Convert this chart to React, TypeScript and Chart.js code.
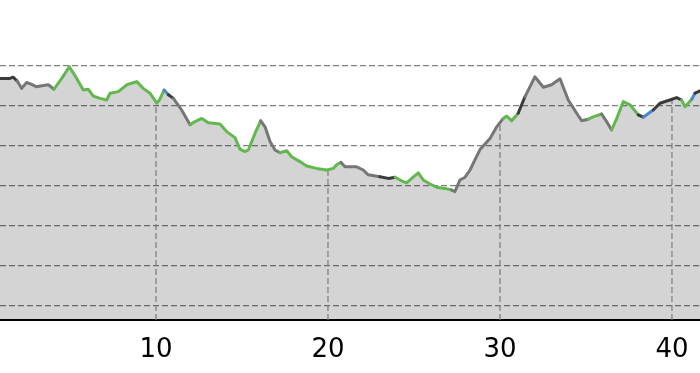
import { useEffect, useRef } from "react";
import { Chart, registerables } from "chart.js";

Chart.register(...registerables);

// distance along the route (km)
const distances = [
  0.8, 0.93, 1.51, 1.69, 1.92, 2.19, 2.48, 2.77, 3.06, 3.45, 3.74, 4.07, 4.52, 4.96, 5.39, 5.77, 6.06, 6.35, 6.74,
  7.13, 7.33, 7.81, 8.3, 8.88, 9.26, 9.65, 10.04, 10.23, 10.47, 10.72, 11.01, 11.49, 11.98, 12.27, 12.66, 13.04,
  13.72, 14.11, 14.59, 14.88, 15.17, 15.37, 15.76, 16.09, 16.34, 16.63, 16.92, 17.21, 17.6, 17.89, 18.37, 18.76,
  19.34, 19.92, 20.31, 20.5, 20.76, 20.99, 21.67, 22.05, 22.34, 23.02, 23.51, 23.9, 24.28, 24.57, 24.87, 25.25,
  25.54, 25.93, 26.32, 26.8, 27.19, 27.38, 27.67, 27.97, 28.26, 28.45, 28.84, 29.42, 29.81, 30.19, 30.39, 30.68,
  31.06, 31.45, 32.03, 32.52, 33.0, 33.49, 33.97, 34.46, 34.75, 35.13, 35.42, 35.91, 36.2, 36.49, 36.79, 37.17,
  37.56, 38.04, 38.33, 38.91, 39.3, 39.88, 40.27, 40.56, 40.76, 41.15, 41.34, 41.63, 41.92,
];

// elevation (arbitrary units, grid step 10)
const elevations = [
  57.0, 56.9, 56.9, 57.2, 56.3, 54.4, 55.9, 55.4, 54.8, 55.1, 55.3, 54.2, 56.9, 59.8, 56.9, 54.0, 54.2, 52.5, 51.9,
  51.5, 53.2, 53.6, 55.3, 56.1, 54.4, 53.2, 50.7, 51.7, 54.0, 52.8, 51.9, 49.0, 45.3, 46.1, 46.9, 45.8,
  45.5, 43.6, 42.1, 39.2, 38.6, 39.0, 43.2, 46.3, 44.8, 41.1, 39.0, 38.3, 38.8, 37.3, 36.1, 35.0,
  34.4, 34.0, 34.4, 35.3, 35.9, 34.8, 34.8, 34.0, 32.8, 32.3, 31.9, 32.2, 31.3, 30.8, 31.9, 33.3,
  31.5, 30.5, 29.7, 29.4, 29.0, 28.6, 31.5, 32.2, 34.0, 35.7, 39.1, 41.9, 44.8, 46.9, 47.5, 46.3,
  48.2, 52.3, 57.3, 54.7, 55.3, 56.8, 51.5, 48.2, 46.3, 46.7, 47.3, 48.0, 46.1, 44.0, 46.9, 51.1,
  50.3, 47.8, 47.2, 49.0, 50.7, 51.5, 52.1, 51.5, 49.8, 51.7, 53.2, 53.8, 54.5,
];

// colour class of the segment starting at each point: d dark, g grey, G green, b blue
const segmentKinds = [
  "d", "d", "d", "d", "g", "g", "g", "g", "g", "g", "g", "G", "G", "G", "G", "G", "G", "G", "G",
  "G", "G", "G", "G", "G", "G", "G", "G", "G", "b", "d", "g", "g", "G", "G", "G", "G",
  "G", "G", "G", "G", "G", "G", "G", "g", "g", "g", "g", "G", "G", "G", "G", "G",
  "G", "G", "G", "G", "g", "g", "g", "g", "g", "d", "d", "G", "G", "G", "G", "G",
  "G", "G", "G", "G", "g", "g", "g", "g", "g", "g", "g", "g", "g", "G", "G", "G",
  "d", "g", "g", "g", "g", "g", "g", "g", "g", "G", "G", "g", "g", "G", "G", "G",
  "G", "d", "b", "d", "d", "d", "d", "G", "G", "b", "d", "d", "d",
];

const kmMarkers = [10, 20, 30, 40];
const xTickValues = [10, 20, 30, 40];
const gridLevels = [0, 10, 20, 30, 40, 50, 60];

const kindColors: Record<string, string> = {
  d: "#3a3a3a",
  g: "#767676",
  G: "#62b84f",
  b: "#4a87d0",
};

function elevationAt(x: number): number {
  for (let i = 0; i < distances.length - 1; i++) {
    const a = distances[i];
    const b = distances[i + 1];
    if (x >= a && x <= b) {
      const t = (x - a) / (b - a);
      return elevations[i] + t * (elevations[i + 1] - elevations[i]);
    }
  }
  return elevations[elevations.length - 1];
}

export default function App() {
  const ref = useRef<HTMLCanvasElement>(null);

  useEffect(() => {
    if (!ref.current) return;
    const Y_MIN = -3.5;
    const Y_MAX = 76.5;
    const points = distances.map((x, i) => ({ x, y: elevations[i] }));
    const markerSets = kmMarkers.map((k) => ({
      data: [
        { x: k, y: Y_MIN },
        { x: k, y: elevationAt(k) },
      ],
      borderColor: "#7a7a7a",
      borderWidth: 1.2,
      borderDash: [6, 3],
      pointRadius: 0,
      fill: false,
      order: 2,
    }));

    const chart = new Chart(ref.current, {
      type: "line",
      data: {
        datasets: [
          {
            data: points,
            borderWidth: 0,
            borderColor: "rgba(0,0,0,0)",
            backgroundColor: "rgba(0,0,0,0.17)",
            fill: "start",
            pointRadius: 0,
            order: 3,
          },
          ...markerSets,
          {
            data: points,
            borderWidth: 3,
            fill: false,
            pointRadius: 0,
            borderCapStyle: "round",
            borderJoinStyle: "round",
            segment: {
              borderColor: (ctx: any) => kindColors[segmentKinds[ctx.p0DataIndex]],
            },
            order: 1,
          },
        ] as any,
      },
      options: {
        animation: false,
        responsive: true,
        maintainAspectRatio: false,
        layout: { padding: 0 },
        events: [],
        plugins: { legend: { display: false }, tooltip: { enabled: false } },
        scales: {
          x: {
            type: "linear",
            min: 0.93,
            max: 41.63,
            afterBuildTicks: (s: any) => {
              s.ticks = xTickValues.map((v) => ({ value: v }));
            },
            afterFit: (s: any) => {
              s.height = 53;
              s.paddingLeft = 0;
              s.paddingRight = 0;
            },
            grid: { display: false, drawTicks: false },
            border: { display: true, color: "#000", width: 2 },
            ticks: {
              padding: 15,
              color: "#000",
              font: { family: "DejaVu Sans", size: 26 },
            },
          },
          y: {
            min: Y_MIN,
            max: Y_MAX,
            afterBuildTicks: (s: any) => {
              s.ticks = gridLevels.map((v) => ({ value: v }));
            },
            afterFit: (s: any) => {
              s.width = 0;
              s.paddingTop = 0;
              s.paddingBottom = 0;
            },
            grid: { color: "#808080", lineWidth: 1.2, drawTicks: false },
            border: { display: false, dash: [6, 3] },
            ticks: { display: false },
          },
        },
      } as any,
    });
    return () => chart.destroy();
  }, []);

  return (
    <div style={{ position: "fixed", left: 0, top: 0, width: 700, height: 373, background: "#fff" }}>
      <canvas ref={ref} />
    </div>
  );
}
